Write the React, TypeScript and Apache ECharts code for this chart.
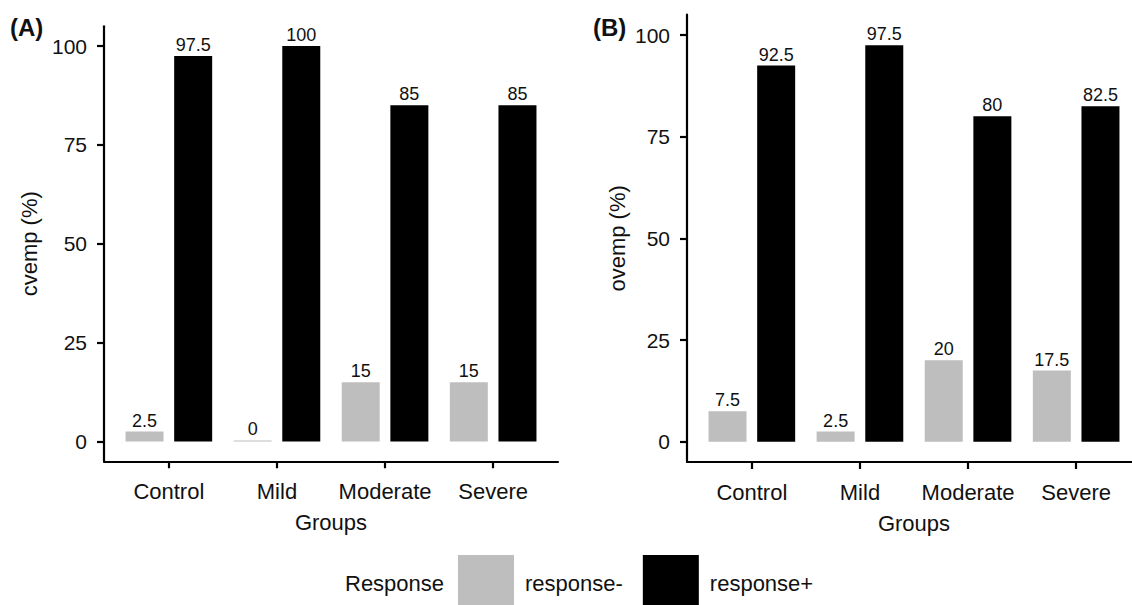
import React, { useEffect, useRef } from "react";
import * as echarts from "echarts";

const groups = ["Control", "Mild", "Moderate", "Severe"];
const cvempNeg = [2.5, 0, 15, 15];
const cvempPos = [97.5, 100, 85, 85];
const ovempNeg = [7.5, 2.5, 20, 17.5];
const ovempPos = [92.5, 97.5, 80, 82.5];
const yTicks = [0, 25, 50, 75, 100];
const legendNames = ["response-", "response+"];

const FONT = "Liberation Sans, Arial, Helvetica, sans-serif";
const TXT = "#111111";
const GRAY = "#BEBEBE";
const BLACK = "#000000";
const LW = 2.2;

export default function App() {
  const ref = useRef<HTMLDivElement>(null);
  useEffect(() => {
    if (!ref.current) return;
    const chart = echarts.init(ref.current, null, { renderer: "svg" });

    const frameY = (grid: number, name: string, gap: number) => ({
      type: "value",
      gridIndex: grid,
      min: -5,
      max: 105,
      name,
      nameLocation: "middle",
      nameGap: gap,
      nameTextStyle: { fontSize: 22, color: TXT, fontFamily: FONT },
      axisLine: { show: true, lineStyle: { color: BLACK, width: LW } },
      axisTick: { show: true, customValues: yTicks, length: 7, lineStyle: { color: BLACK, width: LW } },
      axisLabel: { show: true, customValues: yTicks, fontSize: 21, color: TXT, fontFamily: FONT, margin: 17 },
      splitLine: { show: false },
    });
    const frameX = (grid: number) => ({
      type: "value",
      gridIndex: grid,
      min: 0,
      max: 1,
      name: "Groups",
      nameLocation: "middle",
      nameGap: 50,
      nameTextStyle: { fontSize: 22, color: TXT, fontFamily: FONT },
      axisLine: { show: true, onZero: false, lineStyle: { color: BLACK, width: LW } },
      axisTick: { show: false },
      axisLabel: { show: false },
      splitLine: { show: false },
    });
    const dataX = (grid: number) => ({
      type: "category",
      gridIndex: grid,
      data: groups,
      axisLine: { show: false, onZero: false },
      axisTick: { show: true, interval: 0, alignWithLabel: true, length: 7, lineStyle: { color: BLACK, width: LW } },
      axisLabel: { interval: 0, fontSize: 22, color: TXT, fontFamily: FONT, margin: 19 },
      splitLine: { show: false },
    });
    const dataY = (grid: number) => ({
      type: "value",
      gridIndex: grid,
      min: -5,
      max: 105,
      show: false,
      splitLine: { show: false },
    });
    const barSeries = (name: string, data: number[], color: string, axisIdx: number) => ({
      type: "bar",
      name,
      data,
      xAxisIndex: axisIdx,
      yAxisIndex: axisIdx,
      barWidth: 38,
      barGap: "28%",
      barMinHeight: name === "response-" ? 1 : 0,
      itemStyle: { color },
      label: {
        show: true,
        position: "top",
        distance: 2,
        fontSize: 18,
        color: TXT,
        fontFamily: FONT,
      },
    });

    chart.setOption({
      animation: false,
      backgroundColor: "#ffffff",
      textStyle: { fontFamily: FONT },
      grid: [
        { left: 104, top: 26.25, width: 454, height: 435 },
        { left: 114.8, top: 26.25, width: 432.4, height: 435 },
        { left: 687, top: 14.7, width: 454, height: 447.3 },
        { left: 697.8, top: 14.7, width: 432.4, height: 447.3 },
      ],
      xAxis: [frameX(0), dataX(1), frameX(2), dataX(3)],
      yAxis: [frameY(0, "cvemp (%)", 64), dataY(1), frameY(2, "ovemp (%)", 59), dataY(3)],
      legend: {
        data: legendNames,
        left: 458,
        top: 555,
        padding: 0,
        itemWidth: 56,
        itemHeight: 56,
        itemGap: 20,
        icon: "rect",
        selectedMode: false,
        textStyle: { fontSize: 22, color: TXT, fontFamily: FONT, padding: [0, 0, 0, 6] },
      },
      graphic: [
        { type: "text", x: 10, y: 27.5, style: { text: "(A)", fontSize: 24, fontWeight: "bold", fill: TXT, fontFamily: FONT, verticalAlign: "middle" } },
        { type: "text", x: 593, y: 27.5, style: { text: "(B)", fontSize: 24, fontWeight: "bold", fill: TXT, fontFamily: FONT, verticalAlign: "middle" } },
        { type: "text", x: 345, y: 583, style: { text: "Response", fontSize: 22, fill: TXT, fontFamily: FONT, verticalAlign: "middle" } },
      ],
      series: [
        barSeries("response-", cvempNeg, GRAY, 1),
        barSeries("response+", cvempPos, BLACK, 1),
        barSeries("response-", ovempNeg, GRAY, 3),
        barSeries("response+", ovempPos, BLACK, 3),
      ],
    });
    return () => chart.dispose();
  }, []);
  return (
    <div style={{ position: "fixed", left: 0, top: 0, width: 1132, height: 605, overflow: "hidden", background: "#fff" }}>
      <div ref={ref} style={{ width: 1150, height: 605 }} />
    </div>
  );
}
